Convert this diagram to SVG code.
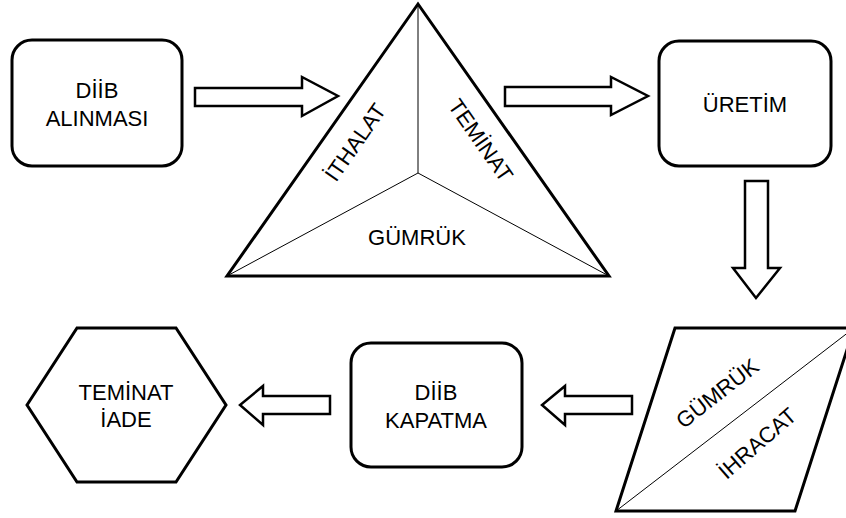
<svg xmlns="http://www.w3.org/2000/svg" width="846" height="518" viewBox="0 0 846 518">
<style>
.box{fill:#fff;stroke:#000;stroke-width:3}
.shape{fill:#fff;stroke:#000;stroke-width:3;stroke-linejoin:miter}
.thin{fill:none;stroke:#000;stroke-width:1}
.arrow{fill:#fff;stroke:#000;stroke-width:2.5;stroke-linejoin:miter}
text{font-family:"Liberation Sans",Arial,sans-serif;font-size:22px;fill:#000;text-anchor:middle}
</style>
<rect width="846" height="518" fill="#fff"/>
<g id="diib-alinmasi">
<rect class="box" x="12" y="40" width="170" height="126" rx="20" ry="20"/>
<text x="97" y="98">DİİB</text>
<text x="97" y="126">ALINMASI</text>
</g>
<g id="triangle">
<polygon class="shape" points="418,4 609,276 227,276"/>
<line class="thin" x1="418" y1="4" x2="418" y2="173"/>
<line class="thin" x1="418" y1="173" x2="227" y2="276"/>
<line class="thin" x1="418" y1="173" x2="609" y2="276"/>
<text transform="translate(355,142) rotate(-55)" x="0" y="8">İTHALAT</text>
<text transform="translate(481,140) rotate(55)" x="0" y="8">TEMİNAT</text>
<text x="417" y="245">GÜMRÜK</text>
</g>
<g id="uretim">
<rect class="box" x="659" y="41" width="172" height="125" rx="20" ry="20"/>
<text x="745" y="112">ÜRETİM</text>
</g>
<g id="gumruk-ihracat">
<polygon class="shape" points="675,328 854,328 795,511 616,511"/>
<line class="thin" x1="616" y1="511" x2="854" y2="328"/>
<text transform="translate(717,393) rotate(-38)" x="0" y="8">GÜMRÜK</text>
<text transform="translate(757,443) rotate(-41)" x="0" y="8">İHRACAT</text>
</g>
<g id="diib-kapatma">
<rect class="box" x="351" y="343" width="171" height="124" rx="20" ry="20"/>
<text x="436" y="400">DİİB</text>
<text x="436" y="428">KAPATMA</text>
</g>
<g id="teminat-iade">
<polygon class="shape" points="27,405 77,328 176,328 226,405 176,482 77,482"/>
<text x="126" y="400">TEMİNAT</text>
<text x="126" y="427">İADE</text>
</g>
<g id="connectors">
<polygon class="arrow" points="195,88 302,88 302,77 338,96 302,116 302,106 195,106"/>
<polygon class="arrow" points="505,87 611,87 611,77 648,96 611,115 611,106 505,106"/>
<polygon class="arrow" points="745,181 768,181 768,268 780,268 756,298 733,268 745,268"/>
<polygon class="arrow" points="632,396 565,396 565,386 542,405 565,425 565,414 632,414"/>
<polygon class="arrow" points="330,396 263,396 263,386 240,405 263,425 263,414 330,414"/>
</g>
</svg>
